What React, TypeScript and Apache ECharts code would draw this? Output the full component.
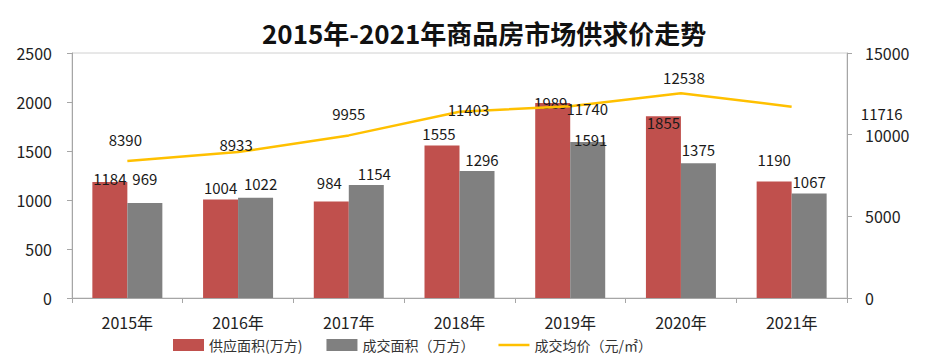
import React, { useEffect, useRef } from "react";
import * as echarts from "echarts";

const categories = ["2015年", "2016年", "2017年", "2018年", "2019年", "2020年", "2021年"];
const supplyArea = [1184, 1004, 984, 1555, 1989, 1855, 1190];
const dealArea = [969, 1022, 1154, 1296, 1591, 1375, 1067];
const avgPrice = [8390, 8933, 9955, 11403, 11740, 12538, 11716];
const leftTicks = [0, 2500, 500];
const rightTicks = [0, 15000, 5000];

const supplyOffsets = [[0, 9], [0, 0], [-2, -7], [-3, 0], [-2, 12], [0, 19], [0, -9]];
const dealOffsets = [[0, -12], [5, -2], [8, 1], [5, 1], [3, 10], [0, -1], [0, 1]];
const priceOffsets = [[-2, -9], [-2, 5], [0, -9], [9, 10], [17, 15], [3, -3], [90, 19]];

const FONT = "'Noto Sans CJK SC', 'Noto Sans', sans-serif";

export default function App() {
  const ref = useRef<HTMLDivElement>(null);
  useEffect(() => {
    const chart = echarts.init(ref.current!, undefined, { renderer: "svg" });
    const labelStyle = { color: "#1a1a1a", fontSize: 15, fontFamily: FONT };
    chart.setOption({
      animation: false,
      textStyle: { fontFamily: FONT },
      title: {
        text: "2015年-2021年商品房市场供求价走势",
        left: 257,
        top: 14,
        textStyle: { fontSize: 26, fontWeight: "bold", color: "#111", fontFamily: FONT },
      },
      grid: {
        left: 72,
        right: 80,
        top: 53,
        bottom: 58,
        show: true,
        borderColor: "#d0d0d0",
        borderWidth: 1,
      },
      legend: {
        left: 168,
        top: 333,
        itemWidth: 31,
        itemHeight: 12,
        itemGap: 24,
        textStyle: { fontSize: 14, color: "#333", fontFamily: FONT },
        data: [
          { name: "供应面积(万方)", icon: "rect" },
          { name: "成交面积（万方）", icon: "rect" },
          {
            name: "成交均价（元/㎡）",
            icon: "path://M0,0 L31,0 L31,2.5 L0,2.5 Z",
            itemStyle: { color: "#FFC000" },
          },
        ],
      },
      xAxis: {
        type: "category",
        data: categories,
        axisLine: { lineStyle: { color: "#a6a6a6" } },
        axisTick: { show: true, lineStyle: { color: "#a6a6a6" }, length: 5 },
        axisLabel: { fontSize: 16, color: "#222", margin: 16, fontFamily: FONT },
      },
      yAxis: [
        {
          type: "value",
          min: leftTicks[0],
          max: leftTicks[1],
          interval: leftTicks[2],
          axisLine: { show: true, lineStyle: { color: "#a6a6a6" } },
          axisTick: { show: true, length: 5, lineStyle: { color: "#a6a6a6" } },
          splitLine: { show: false },
          axisLabel: { fontSize: 16, color: "#222", margin: 20, fontFamily: FONT, formatter: (v: number) => String(v) },
        },
        {
          type: "value",
          min: rightTicks[0],
          max: rightTicks[1],
          interval: rightTicks[2],
          axisLine: { show: true, lineStyle: { color: "#a6a6a6" } },
          axisTick: { show: true, length: 5, lineStyle: { color: "#a6a6a6" } },
          splitLine: { show: false },
          axisLabel: { fontSize: 16, color: "#222", margin: 18, fontFamily: FONT, formatter: (v: number) => String(v) },
        },
      ],
      series: [
        {
          name: "供应面积(万方)",
          type: "bar",
          barWidth: 35,
          barGap: "0%",
          itemStyle: { color: "#C0504D" },
          data: supplyArea.map((v, i) => ({
            value: v,
            label: { show: true, position: "top", distance: 5, offset: supplyOffsets[i], ...labelStyle },
          })),
        },
        {
          name: "成交面积（万方）",
          type: "bar",
          barWidth: 35,
          barGap: "0%",
          itemStyle: { color: "#808080" },
          data: dealArea.map((v, i) => ({
            value: v,
            label: { show: true, position: "top", distance: 5, offset: dealOffsets[i], ...labelStyle },
          })),
        },
        {
          name: "成交均价（元/㎡）",
          type: "line",
          yAxisIndex: 1,
          showSymbol: true,
          symbol: "circle",
          symbolSize: 0,
          lineStyle: { color: "#FFC000", width: 2.5 },
          itemStyle: { color: "#FFC000" },
          data: avgPrice.map((v, i) => ({
            value: v,
            label: { show: true, position: "top", distance: 5, offset: priceOffsets[i], ...labelStyle },
          })),
        },
      ],
    });
    return () => chart.dispose();
  }, []);
  return <div ref={ref} style={{ position: "absolute", left: 0, top: 0, width: 927, height: 356 }} />;
}
